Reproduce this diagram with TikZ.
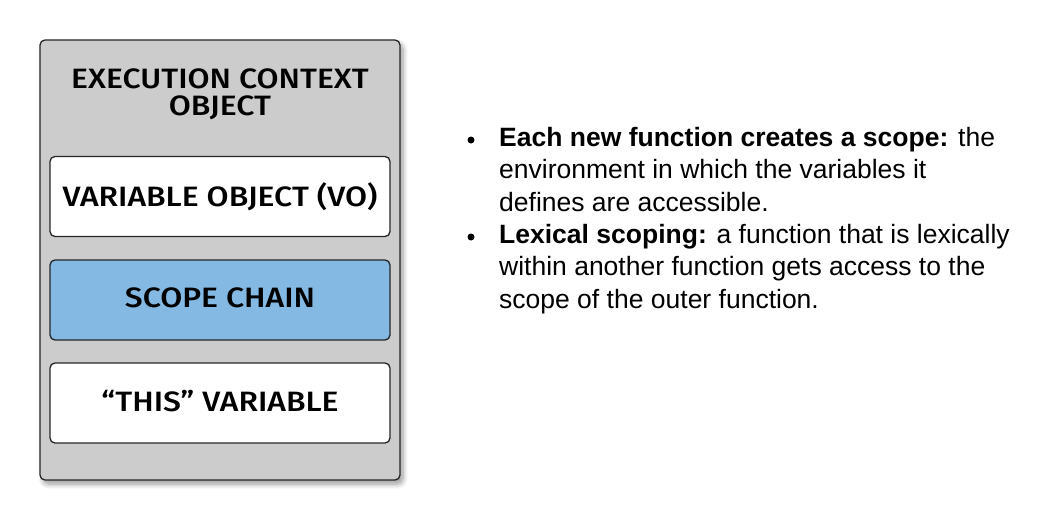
\documentclass[tikz,border=0pt]{standalone}
\usepackage{fontspec}
\setmainfont{Liberation Sans}
\newfontfamily\comicfont{Fira Sans}[UprightFont=* Medium]
\usetikzlibrary{shadows,shadows.blur}
\definecolor{boxgray}{HTML}{CCCCCC}
\definecolor{scopeblue}{HTML}{83B9E3}
\newcommand{\cx}[1]{\scalebox{1.14}[1]{#1}}
\newcommand{\cxb}[1]{\raisebox{4pt}{\scalebox{1.14}[1]{#1}}}
\tikzset{
  outerbox/.style={draw=black!85, line width=1.3pt, fill=boxgray, rounded corners=5pt, blur shadow={shadow xshift=3pt, shadow yshift=-4pt, shadow blur steps=8, shadow blur radius=5pt}},
  innerbox/.style={draw=black!85, line width=1.3pt, rounded corners=5pt, minimum width=340pt, minimum height=80pt, font=\comicfont\fontsize{28}{30}\selectfont, inner sep=0pt},
  bullettext/.style={anchor=north west, align=left, inner sep=0pt, font=\fontsize{26.5}{32.4}\selectfont},
  bulletmark/.style={circle, fill=black, inner sep=0pt, minimum size=7pt}
}
\begin{document}
\begin{tikzpicture}[x=1pt,y=-1pt]
\useasboundingbox (0,0) rectangle (1060,520);
\path[outerbox] (40,40) rectangle (400,480);
\node[font=\comicfont\fontsize{28}{27}\selectfont, align=center] (title) at (220,94) {\cx{EXECUTION CONTEXT}\\\cx{OBJECT}};
\node[innerbox, fill=white] (vo) at (220,196.5) {\cxb{VARIABLE OBJECT (VO)}};
\node[innerbox, fill=scopeblue] (sc) at (220,300) {\cxb{SCOPE CHAIN}};
\node[innerbox, fill=white] (th) at (220,403) {\cxb{“THIS” VARIABLE}};
\node[bulletmark] (b1) at (471,140) {};
\node[bullettext] (t1) at (499,127) {\textbf{Each new function creates a scope:} the\\environment in which the variables it\\defines are accessible.};
\node[bulletmark] (b2) at (471,237) {};
\node[bullettext] (t2) at (499,224) {\textbf{Lexical scoping:} a function that is lexically\\within another function gets access to the\\scope of the outer function.};
\end{tikzpicture}
\end{document}
